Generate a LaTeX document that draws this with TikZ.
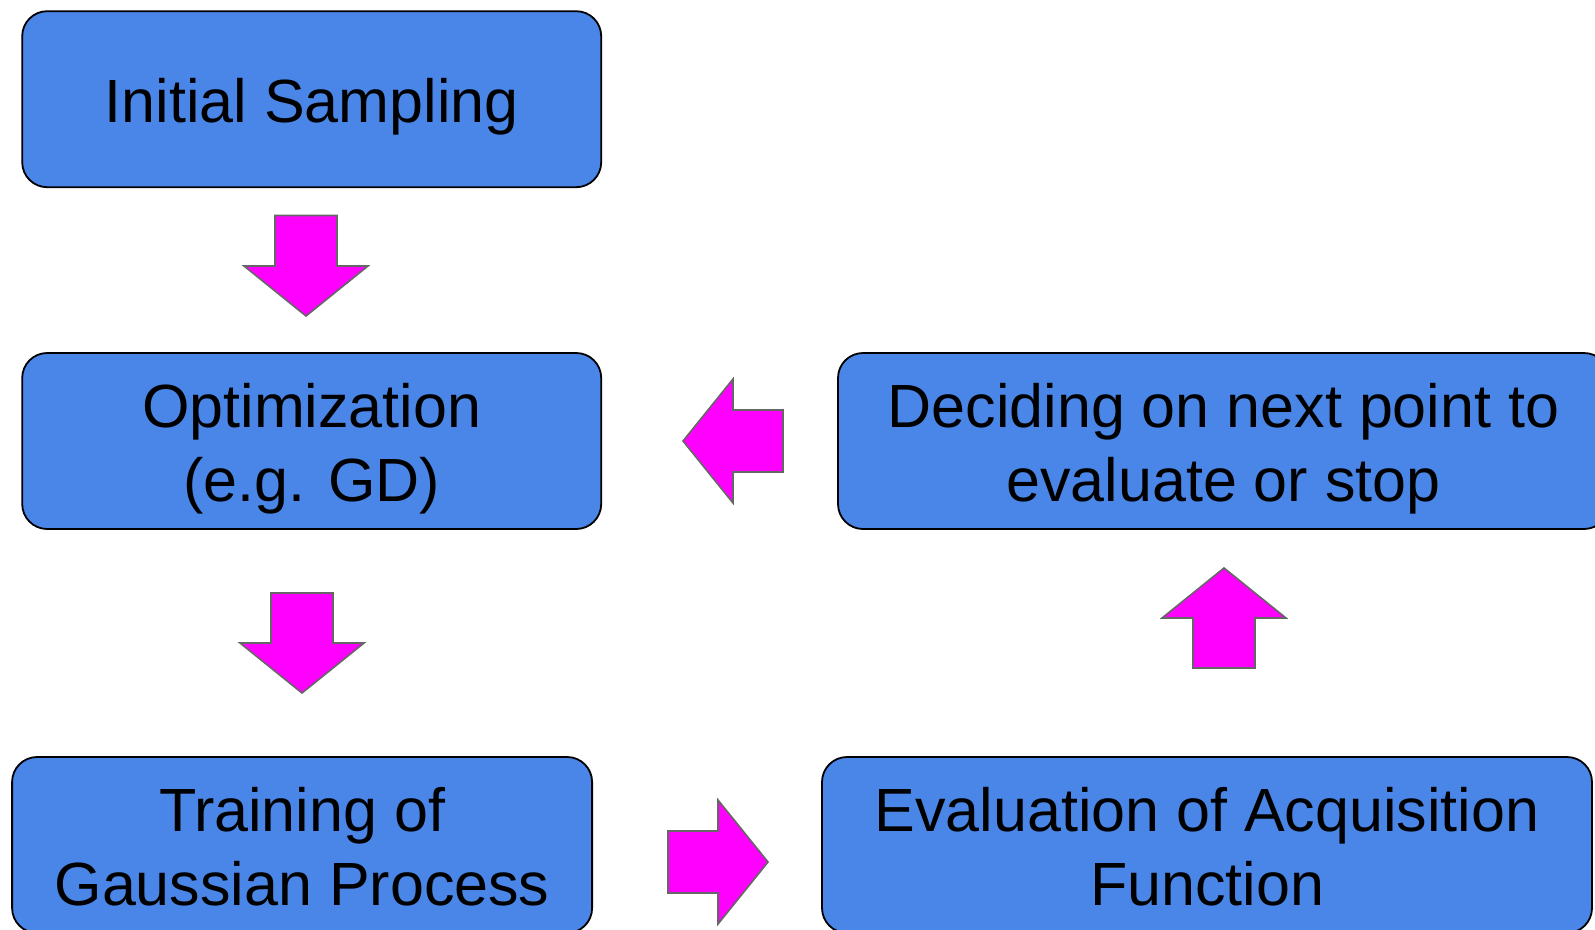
\documentclass[tikz,border=0pt]{standalone}
\usepackage{fontspec}
\setmainfont{Liberation Sans}
\definecolor{boxblue}{HTML}{4A86E8}
\definecolor{arrowfill}{HTML}{FF00FF}
\definecolor{arrowline}{HTML}{666666}
\newcommand{\topstrut}{\vrule width 0pt height 60pt depth 0pt}
\newcommand{\botstrut}{\vrule width 0pt height 0pt depth 14pt}
\begin{document}
\begin{tikzpicture}[x=1pt,y=-1pt,
  stepbox/.style={draw=black, line width=1.8pt, fill=boxblue, rounded corners=25pt,
    minimum height=176pt, inner sep=0pt, align=center,
    font=\fontsize{61}{74}\selectfont},
  blockarrow/.style={fill=arrowfill, draw=arrowline, line width=1.6pt, line join=miter}]
\useasboundingbox (0,0) rectangle (1595,929);

% process boxes
\node[stepbox, minimum width=579pt] (b1) at (311.7,99.2) {\topstrut Initial Sampling\botstrut};
\node[stepbox, minimum width=579pt] (b2) at (311.7,441) {\topstrut Optimization\\(e.g. GD)\botstrut};
\node[stepbox, minimum width=580pt] (b3) at (302.1,845) {\topstrut Training of\\Gaussian Process\botstrut};
\node[stepbox, minimum width=771pt] (b4) at (1223.5,441) {\topstrut Deciding on next point to\\evaluate or stop\botstrut};
\node[stepbox, minimum width=770pt] (b5) at (1207,845) {\topstrut Evaluation of Acquisition\\Function\botstrut};

% block arrows
\draw[blockarrow] (275,215.5) -- (337,215.5) -- (337,266) -- (368,266) -- (306,316) -- (244,266) -- (275,266) -- cycle;
\draw[blockarrow] (271,593) -- (333,593) -- (333,643) -- (364,643) -- (302,693) -- (240,643) -- (271,643) -- cycle;
\draw[blockarrow] (783,410) -- (783,472) -- (733,472) -- (733,503) -- (683,441) -- (733,379) -- (733,410) -- cycle;
\draw[blockarrow] (668,831) -- (668,893) -- (718,893) -- (718,924) -- (768,862) -- (718,800) -- (718,831) -- cycle;
\draw[blockarrow] (1193,668) -- (1255,668) -- (1255,618) -- (1286,618) -- (1224,568) -- (1162,618) -- (1193,618) -- cycle;
\end{tikzpicture}
\end{document}
